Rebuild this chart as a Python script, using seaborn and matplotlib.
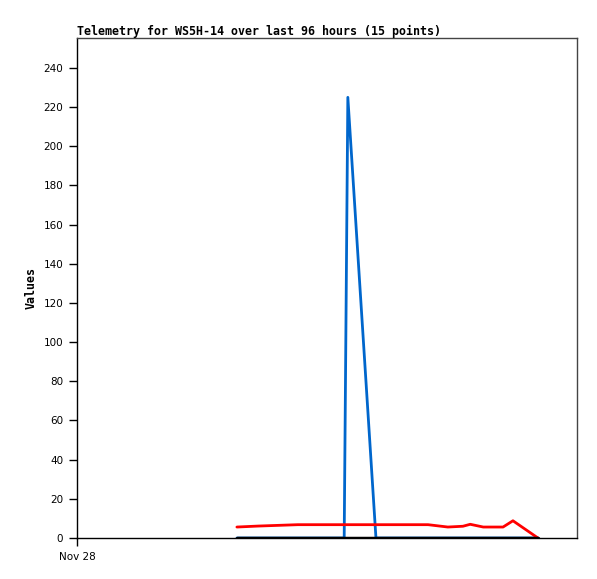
import pandas as pd
import seaborn as sns
import matplotlib.pyplot as plt

# hours since Nov 28 00:00
hours = [30.7, 34.8, 42.4, 46.7, 51.3, 52.0, 57.4, 67.4, 71.2, 74.1, 75.5, 78.0, 81.8, 83.7, 88.5]
blue_vals = [0, 0, 0, 0, 0, 225, 0, 0, 0, 0, 0, 0, 0, 0, 0]
red_vals = [5.6, 6.1, 6.8, 6.8, 6.8, 6.8, 6.8, 6.8, 5.6, 6.0, 7.0, 5.6, 5.6, 8.8, 0]
black_vals = [0] * 15
series_names = ['blue', 'red', 'black']
series_colors = ['#0066cc', '#ff0000', '#000000']

y_ticks = list(range(0, 241, 20))
x_tick_labels = ['Nov 28']

df = pd.concat([
    pd.DataFrame({'hours': hours, 'value': blue_vals, 'series': 'blue'}),
    pd.DataFrame({'hours': hours, 'value': red_vals, 'series': 'red'}),
    pd.DataFrame({'hours': hours, 'value': black_vals, 'series': 'black'}),
])

sns.set_style('white')
plt.rcParams['font.family'] = ['DejaVu Sans']
plt.rcParams['text.color'] = 'black'
plt.rcParams['xtick.color'] = 'black'
plt.rcParams['ytick.color'] = 'black'
plt.rcParams['axes.labelcolor'] = 'black'

fig = plt.figure(figsize=(5.97, 5.79), dpi=100)
ax = fig.add_axes([77 / 597, 41 / 579, 500 / 597, 500 / 579])

for name, color, lw in zip(series_names, series_colors, [2, 2, 2.5]):
    sub = df[df['series'] == name]
    sns.lineplot(data=sub, x='hours', y='value', color=color, linewidth=lw,
                 ax=ax, legend=False)

ax.set_xlim(0, 96)
ax.set_ylim(0, 255.3)
ax.set_yticks(y_ticks)
ax.set_yticklabels([str(v) for v in y_ticks], fontsize=7.5)
ax.set_xticks([0])
ax.set_xticklabels(x_tick_labels, fontsize=7.5)
ax.tick_params(axis='both', direction='out', length=6, width=1, color='black',
               labelcolor='black', left=True, bottom=True, pad=4)
ax.tick_params(axis='x', length=6, pad=4)

for side in ['left', 'bottom']:
    ax.spines[side].set_color('black')
    ax.spines[side].set_linewidth(1)
for side in ['top', 'right']:
    ax.spines[side].set_color('#444444')
    ax.spines[side].set_linewidth(1)

ax.set_xlabel('')
ax.set_ylabel('Values', family='DejaVu Sans Mono', fontweight='bold', fontsize=8.4,
              labelpad=4, color='black')
ax.set_title('Telemetry for WS5H-14 over last 96 hours (15 points)', loc='left',
             family='DejaVu Sans Mono', fontweight='bold', fontsize=8.4, pad=2,
             color='black')

fig.savefig('out.png', dpi=100)
